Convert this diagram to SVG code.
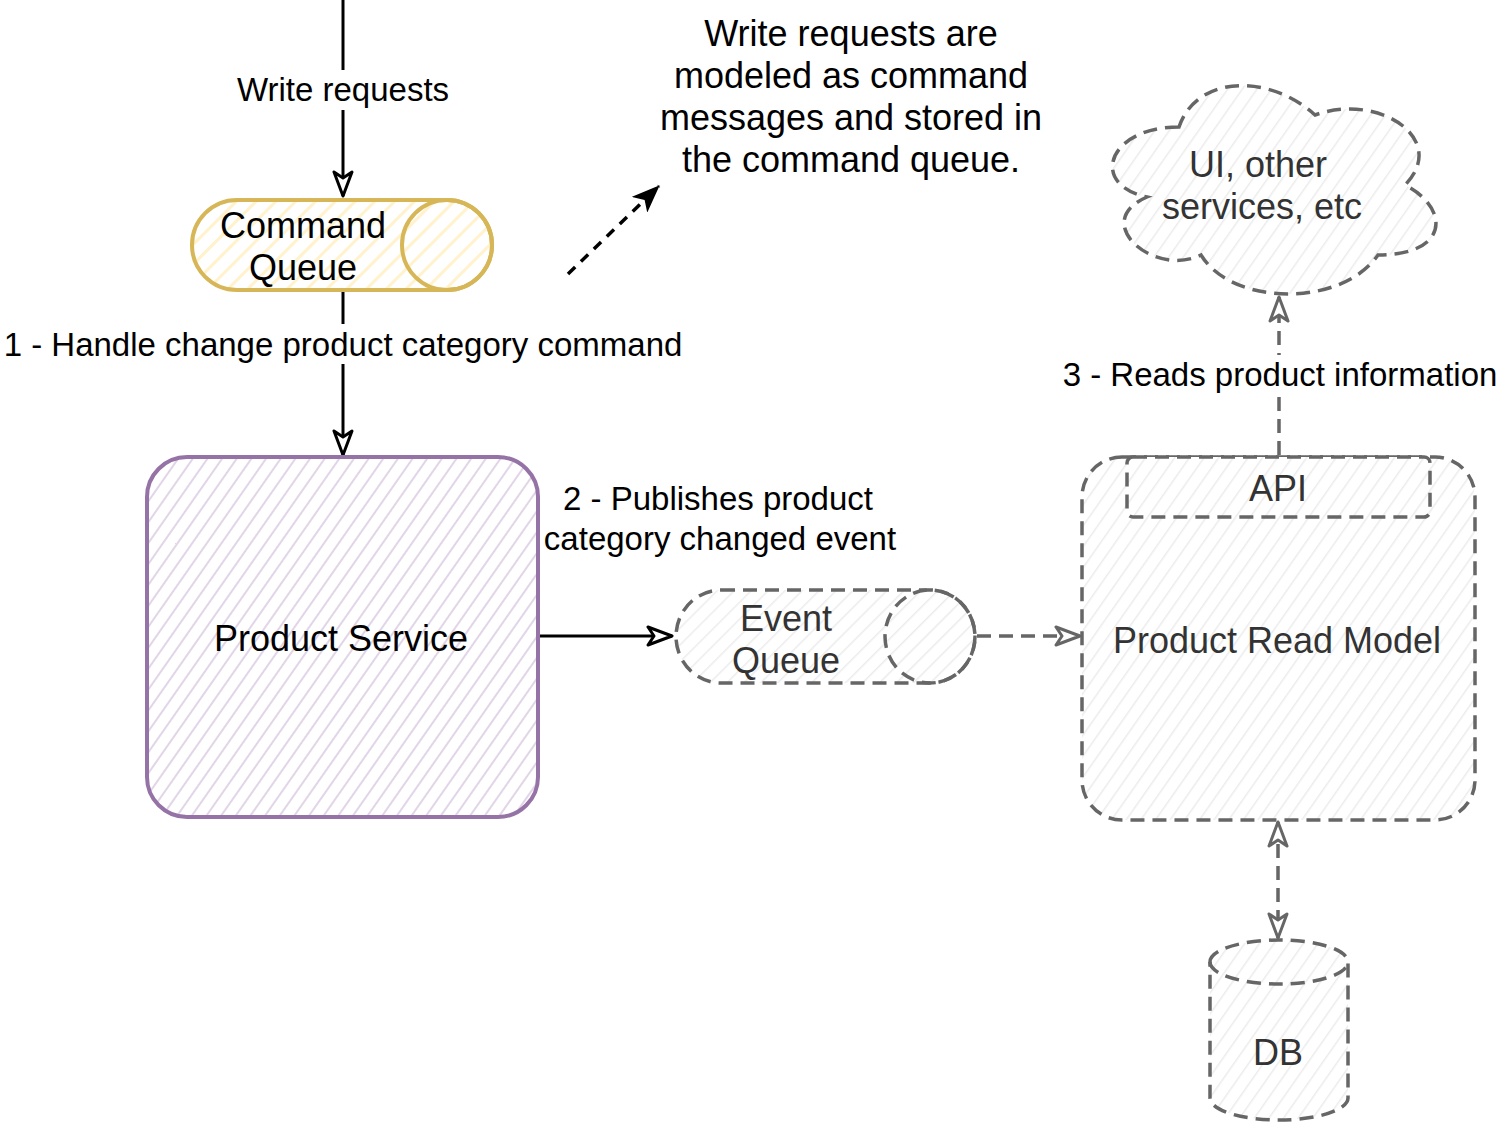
<svg xmlns="http://www.w3.org/2000/svg" width="1500" height="1125" viewBox="0 0 1500 1125">
<style>
text{font-family:"Liberation Sans",Arial,sans-serif;text-anchor:middle}
.node{font-size:36px;fill:#000}
.gtxt{font-size:36px;fill:#333}
.elabel{font-size:33px;fill:#000}
.note{font-size:36px;fill:#000}
.dash{stroke:#666;stroke-width:3.5;stroke-dasharray:14 8;fill:none}
.bg{fill:#fff}
</style>
<defs>
<pattern id="hYellow" patternUnits="userSpaceOnUse" width="14" height="14" patternTransform="rotate(45)">
<rect width="14" height="14" fill="#fff"/><line x1="0" y1="0" x2="0" y2="14" stroke="#fff2cc" stroke-width="6"/></pattern>
<pattern id="hPurple" patternUnits="userSpaceOnUse" width="12" height="12" patternTransform="rotate(35)">
<rect width="12" height="12" fill="#fff"/><line x1="0" y1="0" x2="0" y2="12" stroke="#e1d5e7" stroke-width="4"/></pattern>
<pattern id="hGreyB" patternUnits="userSpaceOnUse" width="12" height="12" patternTransform="rotate(45)">
<rect width="12" height="12" fill="#fff"/><line x1="0" y1="0" x2="0" y2="12" stroke="#ececec" stroke-width="3"/></pattern>
<pattern id="hGreyF" patternUnits="userSpaceOnUse" width="12" height="12" patternTransform="rotate(35)">
<rect width="12" height="12" fill="#fff"/><line x1="0" y1="0" x2="0" y2="12" stroke="#ececec" stroke-width="3"/></pattern>
<marker id="openB" viewBox="0 0 28 22" refX="26" refY="11" markerWidth="28" markerHeight="22" markerUnits="userSpaceOnUse" orient="auto-start-reverse">
<path d="M2,2 L26,11 L2,20 L8,11 Z" fill="#fff" stroke="#000" stroke-width="3" stroke-linejoin="round"/></marker>
<marker id="openG" viewBox="0 0 28 22" refX="26" refY="11" markerWidth="28" markerHeight="22" markerUnits="userSpaceOnUse" orient="auto-start-reverse">
<path d="M2,2 L26,11 L2,20 L8,11 Z" fill="#fff" stroke="#666" stroke-width="3" stroke-linejoin="round"/></marker>
<marker id="fillB" viewBox="0 0 28 22" refX="27" refY="11" markerWidth="28" markerHeight="22" markerUnits="userSpaceOnUse" orient="auto">
<path d="M0,0 L28,11 L0,22 L7,11 Z" fill="#000"/></marker>
</defs>

<g id="connectors">
<g id="e-write">
<line x1="343" y1="0" x2="343" y2="196" stroke="#000" stroke-width="3" marker-end="url(#openB)"/>
<rect class="bg" x="232" y="70" width="222" height="40"/>
<text class="elabel" x="343" y="101">Write requests</text>
</g>
<g id="e-handle">
<line x1="343" y1="290" x2="343" y2="455" stroke="#000" stroke-width="3" marker-end="url(#openB)"/>
<rect class="bg" x="0" y="324" width="686" height="40"/>
<text class="elabel" x="343" y="356">1 - Handle change product category command</text>
</g>
<g id="e-publish">
<line x1="538" y1="636" x2="672" y2="636" stroke="#000" stroke-width="3" marker-end="url(#openB)"/>
<text class="elabel" x="718" y="510">2 - Publishes product</text>
<text class="elabel" x="720" y="550">category changed event</text>
</g>
<line id="e-event" class="dash" x1="977" y1="636" x2="1080" y2="636" marker-end="url(#openG)"/>
<g id="e-reads">
<line class="dash" x1="1279" y1="455" x2="1279" y2="297" marker-end="url(#openG)"/>
<rect class="bg" x="1062" y="355" width="436" height="40"/>
<text class="elabel" x="1280" y="386">3 - Reads product information</text>
</g>
<line id="e-db" class="dash" x1="1278" y1="822" x2="1278" y2="938" marker-start="url(#openG)" marker-end="url(#openG)"/>
<line id="e-note" x1="568" y1="274" x2="659" y2="186" stroke="#000" stroke-width="3.5" stroke-dasharray="10 8" marker-end="url(#fillB)"/>
</g>

<g id="command-queue">
<path d="M237,200 L447,200 A45,45 0 0 1 447,290 L237,290 A45,45 0 0 1 237,200 Z" fill="url(#hYellow)" stroke="#d6b656" stroke-width="4"/>
<ellipse cx="447" cy="245" rx="45" ry="45" fill="none" stroke="#d6b656" stroke-width="4"/>
<text class="node" x="303" y="238">Command</text>
<text class="node" x="303" y="280">Queue</text>
</g>

<g id="product-service">
<rect x="147" y="457" width="391" height="360" rx="40" ry="40" fill="url(#hPurple)" stroke="#9673a6" stroke-width="4"/>
<text class="node" x="341" y="651">Product Service</text>
</g>

<g id="event-queue">
<path class="dash" style="fill:url(#hGreyB)" d="M721,590 L930,590 A45,46.5 0 0 1 930,683 L721,683 A45,46.5 0 0 1 721,590 Z"/>
<ellipse class="dash" cx="930" cy="636.5" rx="45" ry="46.5"/>
<text class="gtxt" x="786" y="631">Event</text>
<text class="gtxt" x="786" y="673">Queue</text>
</g>

<g id="product-read-model">
<rect class="dash" x="1082" y="457" width="393" height="363" rx="40" ry="40" style="fill:url(#hGreyF)"/>
<text class="gtxt" x="1277" y="653">Product Read Model</text>
</g>

<g id="api">
<rect class="dash" x="1127" y="457" width="303" height="60" rx="6" ry="6" style="fill:url(#hGreyF)"/>
<text class="gtxt" x="1278" y="501">API</text>
</g>

<g id="cloud">
<path class="dash" style="fill:url(#hGreyF)" d="M1179,127 C1107,127 1089,185 1147,197 C1089,222 1154,278 1201,255 C1233,307 1342,307 1378,255 C1450,255 1450,208 1405,185 C1450,139 1378,92 1315,115 C1270,74 1197,74 1179,127 Z"/>
<text class="gtxt" x="1258" y="177">UI, other</text>
<text class="gtxt" x="1262" y="219">services, etc</text>
</g>

<g id="db">
<path class="dash" style="fill:url(#hGreyF)" d="M1210,962 A69,22 0 0 1 1348,962 L1348,1098 A69,22 0 0 1 1210,1098 Z"/>
<path class="dash" d="M1210,962 A69,22 0 0 0 1348,962"/>
<text class="gtxt" x="1278" y="1065">DB</text>
</g>

<g id="note">
<text class="note" x="851" y="46">Write requests are</text>
<text class="note" x="851" y="88">modeled as command</text>
<text class="note" x="851" y="130">messages and stored in</text>
<text class="note" x="851" y="172">the command queue.</text>
</g>
</svg>
